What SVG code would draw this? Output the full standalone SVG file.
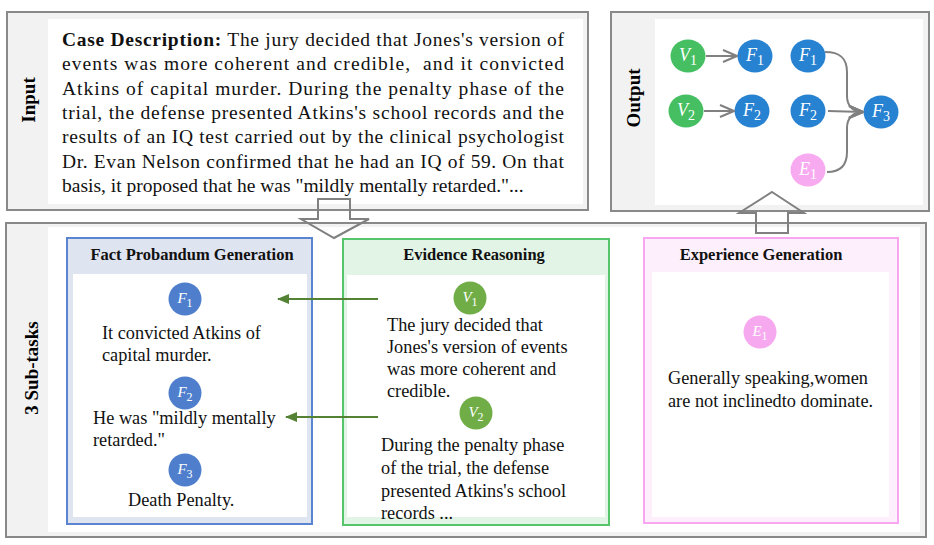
<svg xmlns="http://www.w3.org/2000/svg" width="934" height="545" viewBox="0 0 934 545">
<style>
.frame{fill:#f2f2f2;stroke:#898989;stroke-width:2}
.inner{fill:#ffffff}
.lbl{font-family:"Liberation Serif",serif;font-weight:bold;font-size:19px;fill:#000;text-anchor:middle}
.body{font-family:"Liberation Serif",serif;font-size:19.5px;fill:#111}
.ptext{font-family:"Liberation Serif",serif;font-size:18.3px;fill:#111}
.title{font-family:"Liberation Serif",serif;font-weight:bold;font-size:16.5px;fill:#111;text-anchor:middle}
.nlab{font-family:"Liberation Serif",serif;font-style:italic;fill:#fff;text-anchor:middle}
.gline{stroke:#808080;stroke-width:2;fill:none}
.garrow{stroke:#548235;stroke-width:2;fill:none}
.block{fill:none;stroke:#808080;stroke-width:2;stroke-linejoin:miter}
.ov{fill:#46bf62}.of{fill:#2782d1}.oe{fill:#f8aaf1}
.sv{fill:#70ad47}.sf{fill:#4f7fcc}.se{fill:#f6a9ee}
</style>
<defs>
<marker id="chev" viewBox="0 0 16 14" refX="15" refY="7" markerWidth="16" markerHeight="14" markerUnits="userSpaceOnUse" orient="auto"><path d="M1,1 L15,7 L1,13" fill="none" stroke="#808080" stroke-width="2"/></marker>
<marker id="garr" viewBox="0 0 12 10" refX="11" refY="5" markerWidth="12" markerHeight="10" markerUnits="userSpaceOnUse" orient="auto"><path d="M0,0 L12,5 L0,10 z" fill="#548235"/></marker>
</defs>

<!-- Input frame -->
<g id="input">
<rect class="frame" x="7" y="12" width="581" height="198"/>
<rect class="inner" x="48" y="19" width="535" height="185"/>
<text class="lbl" transform="translate(35,100) rotate(-90)">Input</text>
<text class="body" x="62" y="46" textLength="502" lengthAdjust="spacing"><tspan font-weight="bold">Case Description:</tspan> The jury decided that Jones's version of</text>
<text class="body" x="62" y="70" textLength="502" lengthAdjust="spacing" xml:space="preserve">events was more coherent and credible,  and it convicted</text>
<text class="body" x="62" y="94.5" textLength="502" lengthAdjust="spacing">Atkins of capital murder. During the penalty phase of the</text>
<text class="body" x="62" y="119" textLength="502" lengthAdjust="spacing">trial, the defense presented Atkins's school records and the</text>
<text class="body" x="62" y="143" textLength="502" lengthAdjust="spacing">results of an IQ test carried out by the clinical psychologist</text>
<text class="body" x="62" y="167.5" textLength="502" lengthAdjust="spacing">Dr. Evan Nelson confirmed that he had an IQ of 59. On that</text>
<text class="body" x="62" y="192">basis, it proposed that he was "mildly mentally retarded."...</text>
</g>

<!-- Output frame -->
<g id="output">
<rect class="frame" x="611" y="12" width="318" height="199"/>
<rect class="inner" x="655" y="19" width="268" height="186"/>
<text class="lbl" transform="translate(640,98) rotate(-90)">Output</text>
</g>

<g id="out-V1"><ellipse class="ov" cx="688" cy="56" rx="17.5" ry="16.5"/><text class="nlab" x="688" y="61" font-size="18">V<tspan font-size="14" dy="4" font-style="normal">1</tspan></text></g>
<g id="out-F1"><ellipse class="of" cx="755" cy="56" rx="17.5" ry="16.5"/><text class="nlab" x="755" y="61" font-size="18">F<tspan font-size="14" dy="4" font-style="normal">1</tspan></text></g>
<g id="out-F1b"><ellipse class="of" cx="808" cy="56" rx="17.5" ry="16.5"/><text class="nlab" x="808" y="61" font-size="18">F<tspan font-size="14" dy="4" font-style="normal">1</tspan></text></g>
<g id="out-V2"><ellipse class="ov" cx="686" cy="111" rx="17.5" ry="16.5"/><text class="nlab" x="686" y="116" font-size="18">V<tspan font-size="14" dy="4" font-style="normal">2</tspan></text></g>
<g id="out-F2"><ellipse class="of" cx="752" cy="111" rx="17.5" ry="16.5"/><text class="nlab" x="752" y="116" font-size="18">F<tspan font-size="14" dy="4" font-style="normal">2</tspan></text></g>
<g id="out-F2b"><ellipse class="of" cx="808" cy="111" rx="17.5" ry="16.5"/><text class="nlab" x="808" y="116" font-size="18">F<tspan font-size="14" dy="4" font-style="normal">2</tspan></text></g>
<g id="out-F3"><ellipse class="of" cx="881" cy="112" rx="17.5" ry="16.5"/><text class="nlab" x="881" y="117" font-size="18">F<tspan font-size="14" dy="4" font-style="normal">3</tspan></text></g>
<g id="out-E1"><ellipse class="oe" cx="808" cy="170" rx="17.5" ry="16.5"/><text class="nlab" x="808" y="175" font-size="18">E<tspan font-size="14" dy="4" font-style="normal">1</tspan></text></g>

<!-- Sub-tasks frame -->
<g id="subtasks">
<rect class="frame" x="6" y="223" width="920" height="314"/>
<rect class="inner" x="48" y="227" width="872" height="305"/>
<text class="lbl" transform="translate(38,368) rotate(-90)">3 Sub-tasks</text>
</g>

<g id="fact-probandum">
<rect x="67" y="238" width="245" height="286" fill="#dfe5f0" stroke="#5a84d0" stroke-width="2"/>
<rect x="73" y="274" width="234" height="243" fill="#fff"/>
<text class="title" x="192" y="260">Fact Probandum Generation</text>
<circle class="sf" cx="185" cy="299" r="16.5"/><text class="nlab" x="185" y="303" font-size="15">F<tspan font-size="12" dy="3.5" font-style="normal">1</tspan></text>
<text class="ptext" x="102" y="339">It convicted Atkins of</text>
<text class="ptext" x="102" y="361">capital murder.</text>
<circle class="sf" cx="185" cy="393" r="16.5"/><text class="nlab" x="185" y="397" font-size="15">F<tspan font-size="12" dy="3.5" font-style="normal">2</tspan></text>
<text class="ptext" x="93" y="424">He was "mildly mentally</text>
<text class="ptext" x="93" y="446">retarded."</text>
<circle class="sf" cx="185" cy="470" r="16.5"/><text class="nlab" x="185" y="474" font-size="15">F<tspan font-size="12" dy="3.5" font-style="normal">3</tspan></text>
<text class="ptext" x="128" y="506">Death Penalty.</text>
</g>

<g id="evidence-reasoning">
<rect x="343" y="239" width="266" height="286" fill="#e2f4e6" stroke="#56c46b" stroke-width="2"/>
<rect x="347" y="275" width="258" height="242" fill="#fff"/>
<text class="title" x="474" y="260">Evidence Reasoning</text>
<circle class="sv" cx="470" cy="298" r="16.5"/><text class="nlab" x="470" y="302" font-size="15">V<tspan font-size="12" dy="3.5" font-style="normal">1</tspan></text>
<text class="ptext" x="387" y="331">The jury decided that</text>
<text class="ptext" x="387" y="353">Jones's version of events</text>
<text class="ptext" x="387" y="375">was more coherent and</text>
<text class="ptext" x="387" y="397">credible.</text>
<circle class="sv" cx="476" cy="413" r="16.5"/><text class="nlab" x="476" y="417" font-size="15">V<tspan font-size="12" dy="3.5" font-style="normal">2</tspan></text>
<text class="ptext" x="381" y="451">During the penalty phase</text>
<text class="ptext" x="381" y="474">of the trial, the defense</text>
<text class="ptext" x="381" y="497">presented Atkins's school</text>
<text class="ptext" x="381" y="519">records ...</text>
</g>

<g id="experience-generation">
<rect x="644" y="238" width="254" height="285" fill="#fdeffc" stroke="#f9a6f2" stroke-width="2"/>
<rect x="652" y="272" width="237" height="245" fill="#fff"/>
<text class="title" x="761" y="260">Experience Generation</text>
<circle class="se" cx="760" cy="332" r="16.5"/><text class="nlab" x="760" y="336" font-size="15">E<tspan font-size="12" dy="3.5" font-style="normal">1</tspan></text>
<text class="ptext" x="668" y="384">Generally speaking,women</text>
<text class="ptext" x="668" y="407">are not inclinedto dominate.</text>
</g>

<!-- Connectors -->
<g id="connectors">
<path class="gline" d="M706,56 L737,56" marker-end="url(#chev)"/>
<path class="gline" d="M704,111 L734,111" marker-end="url(#chev)"/>
<path class="gline" d="M825,52 C840,52 847,58 847,72 L847,96 C847,106 853,112 863,112" marker-end="url(#chev)"/>
<path class="gline" d="M828,111 L863,112" marker-end="url(#chev)"/>
<path class="gline" d="M827,172 C840,172 847,166 847,152 L847,128 C847,118 853,112 863,112" marker-end="url(#chev)"/>
<path class="garrow" d="M378,299 L278,299" marker-end="url(#garr)"/>
<path class="garrow" d="M378,417 L286,417" marker-end="url(#garr)"/>
<polygon class="block" points="318,199 350,199 350,219 369,219 334,238 301,219 318,219"/>
<polygon class="block" points="772,192 804,213 788,213 788,233 756,233 756,213 739,213"/>
</g>
</svg>
